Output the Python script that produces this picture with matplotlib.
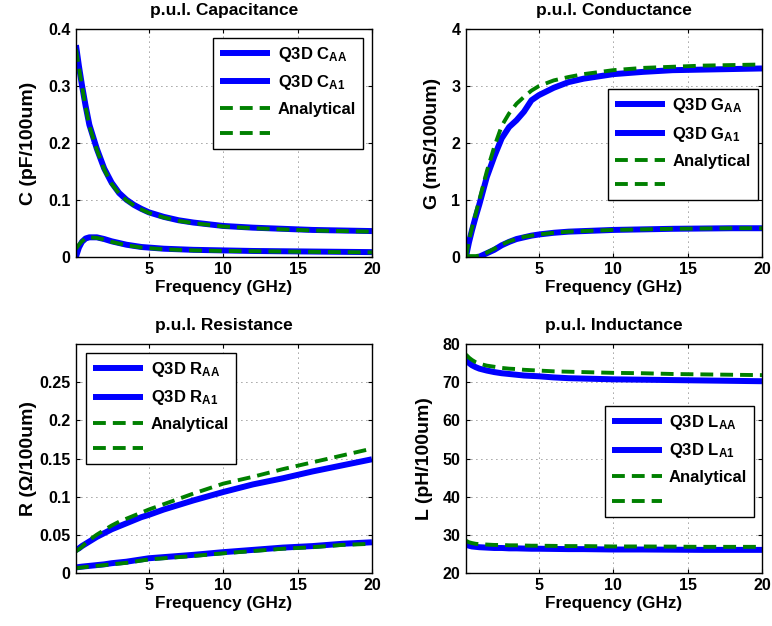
import numpy as np
import matplotlib
matplotlib.use('Agg')
import matplotlib.pyplot as plt

plt.rcParams['font.family'] = ['Liberation Sans', 'DejaVu Sans']
plt.rcParams['font.weight'] = 'bold'
plt.rcParams['mathtext.fontset'] = 'custom'
plt.rcParams['mathtext.rm'] = 'Liberation Sans:bold'
plt.rcParams['mathtext.bf'] = 'Liberation Sans:bold'
plt.rcParams['mathtext.it'] = 'Liberation Sans:bold'
plt.rcParams['mathtext.default'] = 'bf'

# frequency grid (GHz)
freq = [0.1, 0.3, 0.5, 0.75, 1, 1.5, 2, 2.5, 3, 3.5, 4, 4.5, 5, 6, 7, 8, 10, 12, 14, 16, 18, 20]

# capacitance (pF/100um)
c_aa_q3d = [0.372, 0.335, 0.302, 0.265, 0.232, 0.19, 0.155, 0.13, 0.112, 0.1, 0.091, 0.084, 0.078,
            0.07, 0.064, 0.06, 0.054, 0.051, 0.049, 0.047, 0.046, 0.045]
c_a1_q3d = [0.0, 0.016, 0.026, 0.032, 0.034, 0.034, 0.031, 0.027, 0.024, 0.021, 0.019, 0.017, 0.016,
            0.014, 0.013, 0.012, 0.011, 0.010, 0.0095, 0.009, 0.0085, 0.008]
c_aa_ana = [0.365, 0.332, 0.3, 0.263, 0.23, 0.188, 0.153, 0.128, 0.111, 0.099, 0.09, 0.083, 0.077,
            0.069, 0.063, 0.059, 0.053, 0.05, 0.048, 0.046, 0.045, 0.044]
c_a1_ana = [0.014, 0.021, 0.027, 0.032, 0.034, 0.033, 0.03, 0.026, 0.023, 0.02, 0.018, 0.016, 0.015,
            0.013, 0.012, 0.011, 0.010, 0.0095, 0.009, 0.0085, 0.008, 0.0075]

# conductance (mS/100um)
g_aa_q3d = [0.0, 0.25, 0.46, 0.7, 0.92, 1.4, 1.76, 2.08, 2.28, 2.4, 2.55, 2.75, 2.84,
            2.97, 3.07, 3.13, 3.21, 3.25, 3.28, 3.29, 3.3, 3.31]
g_a1_q3d = [-0.15, -0.12, -0.08, -0.04, 0.0, 0.06, 0.12, 0.2, 0.26, 0.31, 0.34, 0.37, 0.39,
            0.42, 0.44, 0.45, 0.47, 0.48, 0.49, 0.495, 0.5, 0.5]
g_aa_ana = [0.0, 0.28, 0.5, 0.75, 1.0, 1.5, 1.93, 2.3, 2.52, 2.69, 2.81, 2.92, 3.0,
            3.1, 3.16, 3.21, 3.28, 3.32, 3.34, 3.36, 3.37, 3.38]
g_a1_ana = [0.01, 0.01, 0.01, 0.01, 0.02, 0.07, 0.14, 0.21, 0.27, 0.31, 0.35, 0.37, 0.39,
            0.42, 0.44, 0.45, 0.47, 0.48, 0.49, 0.495, 0.5, 0.5]

# resistance (Ohm/100um)
r_aa_q3d = [0.03, 0.032, 0.035, 0.038, 0.041, 0.047, 0.052, 0.057, 0.061, 0.065, 0.069, 0.073, 0.076,
            0.083, 0.089, 0.095, 0.106, 0.116, 0.124, 0.133, 0.141, 0.149]
r_a1_q3d = [0.007, 0.0075, 0.008, 0.0085, 0.009, 0.010, 0.011, 0.0125, 0.0135, 0.0145, 0.016, 0.0175, 0.019,
            0.0205, 0.022, 0.0235, 0.027, 0.030, 0.033, 0.035, 0.038, 0.040]
r_aa_ana = [0.028, 0.031, 0.034, 0.039, 0.043, 0.05, 0.056, 0.062, 0.067, 0.071, 0.075, 0.079, 0.083,
            0.09, 0.097, 0.104, 0.117, 0.126, 0.136, 0.145, 0.154, 0.163]
r_a1_ana = [0.006, 0.0065, 0.007, 0.0075, 0.008, 0.009, 0.010, 0.011, 0.012, 0.013, 0.0145, 0.016, 0.0175,
            0.019, 0.0205, 0.022, 0.0255, 0.0285, 0.0315, 0.0335, 0.0365, 0.038]

# inductance (pH/100um)
l_aa_q3d = [76.0, 75.1, 74.5, 74.0, 73.6, 73.1, 72.7, 72.4, 72.2, 72.0, 71.8, 71.7, 71.6,
            71.3, 71.1, 71.0, 70.8, 70.7, 70.6, 70.5, 70.4, 70.3]
l_a1_q3d = [27.4, 27.1, 26.9, 26.8, 26.7, 26.6, 26.5, 26.5, 26.4, 26.4, 26.35, 26.3, 26.3,
            26.25, 26.2, 26.2, 26.1, 26.1, 26.05, 26.0, 26.0, 26.0]
l_aa_ana = [77.3, 76.5, 75.9, 75.3, 74.9, 74.4, 74.1, 73.8, 73.6, 73.5, 73.3, 73.2, 73.1,
            72.9, 72.8, 72.7, 72.5, 72.4, 72.2, 72.1, 72.0, 71.9]
l_a1_ana = [28.4, 28.0, 27.8, 27.6, 27.5, 27.4, 27.3, 27.3, 27.2, 27.2, 27.15, 27.1, 27.1,
            27.05, 27.0, 27.0, 26.9, 26.9, 26.85, 26.8, 26.8, 26.8]

fig = plt.figure(figsize=(7.72, 6.26), dpi=100)

panels = [
    # rect, title, ylabel, letter, curves, ylim, yticks, ytick labels, legend loc, anchor, ylabel x
    ([0.0984, 0.590, 0.3834, 0.3633], 'p.u.l. Capacitance', 'C (pF/100um)', 'C',
     (c_aa_q3d, c_a1_q3d, c_aa_ana, c_a1_ana), (0, 0.4),
     [0, 0.1, 0.2, 0.3, 0.4], ['0', '0.1', '0.2', '0.3', '0.4'],
     'upper right', (0.969, 0.963), -0.132),
    ([0.6036, 0.590, 0.3834, 0.3633], 'p.u.l. Conductance', 'G (mS/100um)', 'G',
     (g_aa_q3d, g_a1_q3d, g_aa_ana, g_a1_ana), (0, 4),
     [0, 1, 2, 3, 4], ['0', '1', '2', '3', '4'],
     'upper right', (0.985, 0.736), -0.084),
    ([0.0984, 0.0851, 0.3834, 0.3649], 'p.u.l. Resistance', 'R (\u03a9/100um)', 'R',
     (r_aa_q3d, r_a1_q3d, r_aa_ana, r_a1_ana), (0, 0.3),
     [0, 0.05, 0.1, 0.15, 0.2, 0.25], ['0', '0.05', '0.1', '0.15', '0.2', '0.25'],
     'upper left', (0.034, 0.963), -0.132),
    ([0.6036, 0.0851, 0.3834, 0.3649], 'p.u.l. Inductance', 'L (pH/100um)', 'L',
     (l_aa_q3d, l_a1_q3d, l_aa_ana, l_a1_ana), (20, 80),
     [20, 30, 40, 50, 60, 70, 80], ['20', '30', '40', '50', '60', '70', '80'],
     'upper right', (0.974, 0.731), -0.112),
]

blue = (0, 0, 1)
green = (0, 0.5, 0)

for rect, title, ylabel, letter, curves, ylim, yticks, ylabels, loc, anchor, ylx in panels:
    ax = fig.add_axes(rect)
    q_aa, q_a1, a_aa, a_a1 = curves
    ax.plot(freq, q_aa, color=blue, lw=4.3, solid_capstyle='butt', label='Q3D %s$_{AA}$' % letter)
    ax.plot(freq, q_a1, color=blue, lw=4.3, solid_capstyle='butt', label='Q3D %s$_{A1}$' % letter)
    ax.plot(freq, a_aa, color=green, lw=2.8, ls=(0, (3.3, 1.8)), label='Analytical')
    ax.plot(freq, a_a1, color=green, lw=2.8, ls=(0, (3.3, 1.8)), label=' ')

    ax.set_xlim(0.1, 20)
    ax.set_ylim(*ylim)
    ax.set_xticks([5, 10, 15, 20])
    ax.set_xticklabels(['5', '10', '15', '20'])
    ax.set_yticks(yticks)
    ax.set_yticklabels(ylabels)
    ax.grid(True, color='0.25', lw=0.6, ls=(0, (1, 5)))
    ax.tick_params(direction='in', top=True, right=True, length=3, labelsize=11.5, pad=4)
    for sp in ax.spines.values():
        sp.set_linewidth(1.0)

    ax.set_title(title, fontsize=12.5, fontweight='bold', pad=10)
    ax.set_xlabel('Frequency (GHz)', fontsize=12.3, fontweight='bold', labelpad=2)
    ax.set_ylabel(ylabel, fontsize=14, fontweight='bold')
    ax.yaxis.set_label_coords(ylx, 0.5)

    leg = ax.legend(loc=loc, bbox_to_anchor=anchor, borderaxespad=0, fontsize=12,
                    fancybox=False, framealpha=1, edgecolor='k', handlelength=3.0,
                    handletextpad=0.45, labelspacing=0.58, borderpad=0.42)
    leg.get_frame().set_linewidth(1.0)

fig.savefig('out.png', dpi=100)
